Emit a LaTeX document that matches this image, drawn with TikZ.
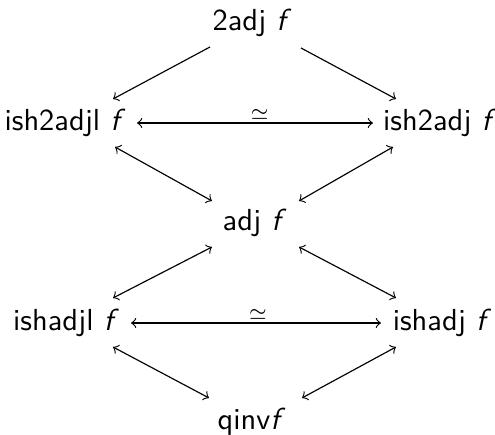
\documentclass[tikz,border=0pt]{standalone}
\usetikzlibrary{calc}
\begin{document}
\begin{tikzpicture}[x=0.345pt,y=-0.345pt,>=to,
  obj/.style={anchor=base,inner sep=0pt,font=\fontsize{10.5}{13}\selectfont\sffamily},
  arr/.style={line width=0.4pt,->},
  biarr/.style={line width=0.4pt,<->},
  eqlbl/.style={inner sep=0pt}]
\useasboundingbox (0,0) rectangle (495,435);
\node[obj] (top) at (252,31) {2adj \textit{f}};
\node[obj] (l1) at (65,131) {ish2adjl \textit{f}};
\node[obj] (r1) at (440,131) {ish2adj \textit{f}};
\node[obj] (adj) at (254.5,231) {adj \textit{f}};
\node[obj] (l2) at (66,331) {ishadjl \textit{f}};
\node[obj] (r2) at (442,331) {ishadj \textit{f}};
\node[obj] (bot) at (251.5,430) {qinv\textit{f}};
\draw[arr] ($(top.base)+(-42,16)$) -- ($(l1.base)+(48,-32)$);
\draw[arr] ($(top.base)+(49,17)$) -- ($(r1.base)+(-44,-32)$);
\draw[biarr] ($(l1.base)+(72,-8)$) -- node[eqlbl,pos=0.52,yshift=3pt]{$\scriptstyle\simeq$} ($(r1.base)+(-67,-8)$);
\draw[biarr] ($(l1.base)+(50,16)$) -- ($(adj.base)+(-42.5,-30)$);
\draw[biarr] ($(r1.base)+(-47,16)$) -- ($(adj.base)+(44.5,-30)$);
\draw[biarr] ($(adj.base)+(-42.5,16)$) -- ($(l2.base)+(47,-33)$);
\draw[biarr] ($(adj.base)+(44.5,16)$) -- ($(r2.base)+(-46,-33)$);
\draw[biarr] ($(l2.base)+(65,-8)$) -- node[eqlbl,pos=0.508,yshift=3pt]{$\scriptstyle\simeq$} ($(r2.base)+(-61,-8)$);
\draw[biarr] ($(l2.base)+(47,16)$) -- ($(bot.base)+(-42.5,-32)$);
\draw[biarr] ($(r2.base)+(-46,16)$) -- ($(bot.base)+(50.5,-32)$);
\end{tikzpicture}
\end{document}
